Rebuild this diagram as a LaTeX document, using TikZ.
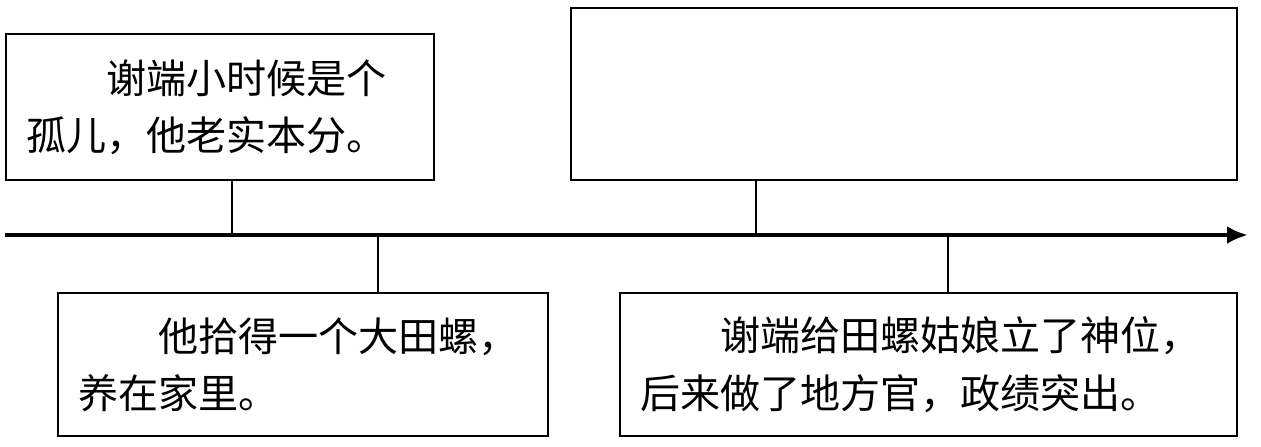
\documentclass[tikz,border=0pt]{standalone}
\usepackage{fontspec}
\setmainfont{Noto Sans CJK SC}
\usetikzlibrary{arrows.meta}
\begin{document}
\begin{tikzpicture}[>={Latex[length=2.1mm,width=1.8mm]},
    every node/.style={font=\fontsize{11.4pt}{16.3pt}\selectfont},
    card/.style={draw, line width=0.6pt, anchor=north west, inner xsep=0.2cm, inner ysep=0pt, align=left}]
    \useasboundingbox (0,0) rectangle (12.61,-4.46);
    % time line
    \coordinate (start) at (0.05,-2.35);
    \coordinate (end) at (12.48,-2.35);
    \draw[->, very thick] (start) -- (end);
    \coordinate (t1) at (2.32,-2.35);
    \coordinate (t2) at (3.78,-2.35);
    \coordinate (t3) at (7.56,-2.35);
    \coordinate (t4) at (9.48,-2.35);
    % events above
    \node[card, minimum width=4.28cm, minimum height=1.46cm, text width=3.88cm] (b1) at (0.05,-0.33)
      {\hspace*{2em}谢端小时候是个\\孤儿，他老实本分。};
    \node[card, minimum width=6.66cm, minimum height=1.72cm] (b2) at (5.70,-0.07) {};
    % events below
    \node[card, minimum width=4.90cm, minimum height=1.43cm, text width=4.50cm] (b3) at (0.57,-2.92)
      {\hspace*{2em}他拾得一个大田螺，\\养在家里。};
    \node[card, minimum width=6.17cm, minimum height=1.43cm, text width=5.77cm] (b4) at (6.19,-2.92)
      {\hspace*{2em}谢端给田螺姑娘立了神位，\\后来做了地方官，政绩突出。};
    % ticks
    \draw[line width=0.6pt] (b1.south -| t1) -- (t1);
    \draw[line width=0.6pt] (b2.south -| t3) -- (t3);
    \draw[line width=0.6pt] (b3.north -| t2) -- (t2);
    \draw[line width=0.6pt] (b4.north -| t4) -- (t4);
  \end{tikzpicture}
\end{document}
